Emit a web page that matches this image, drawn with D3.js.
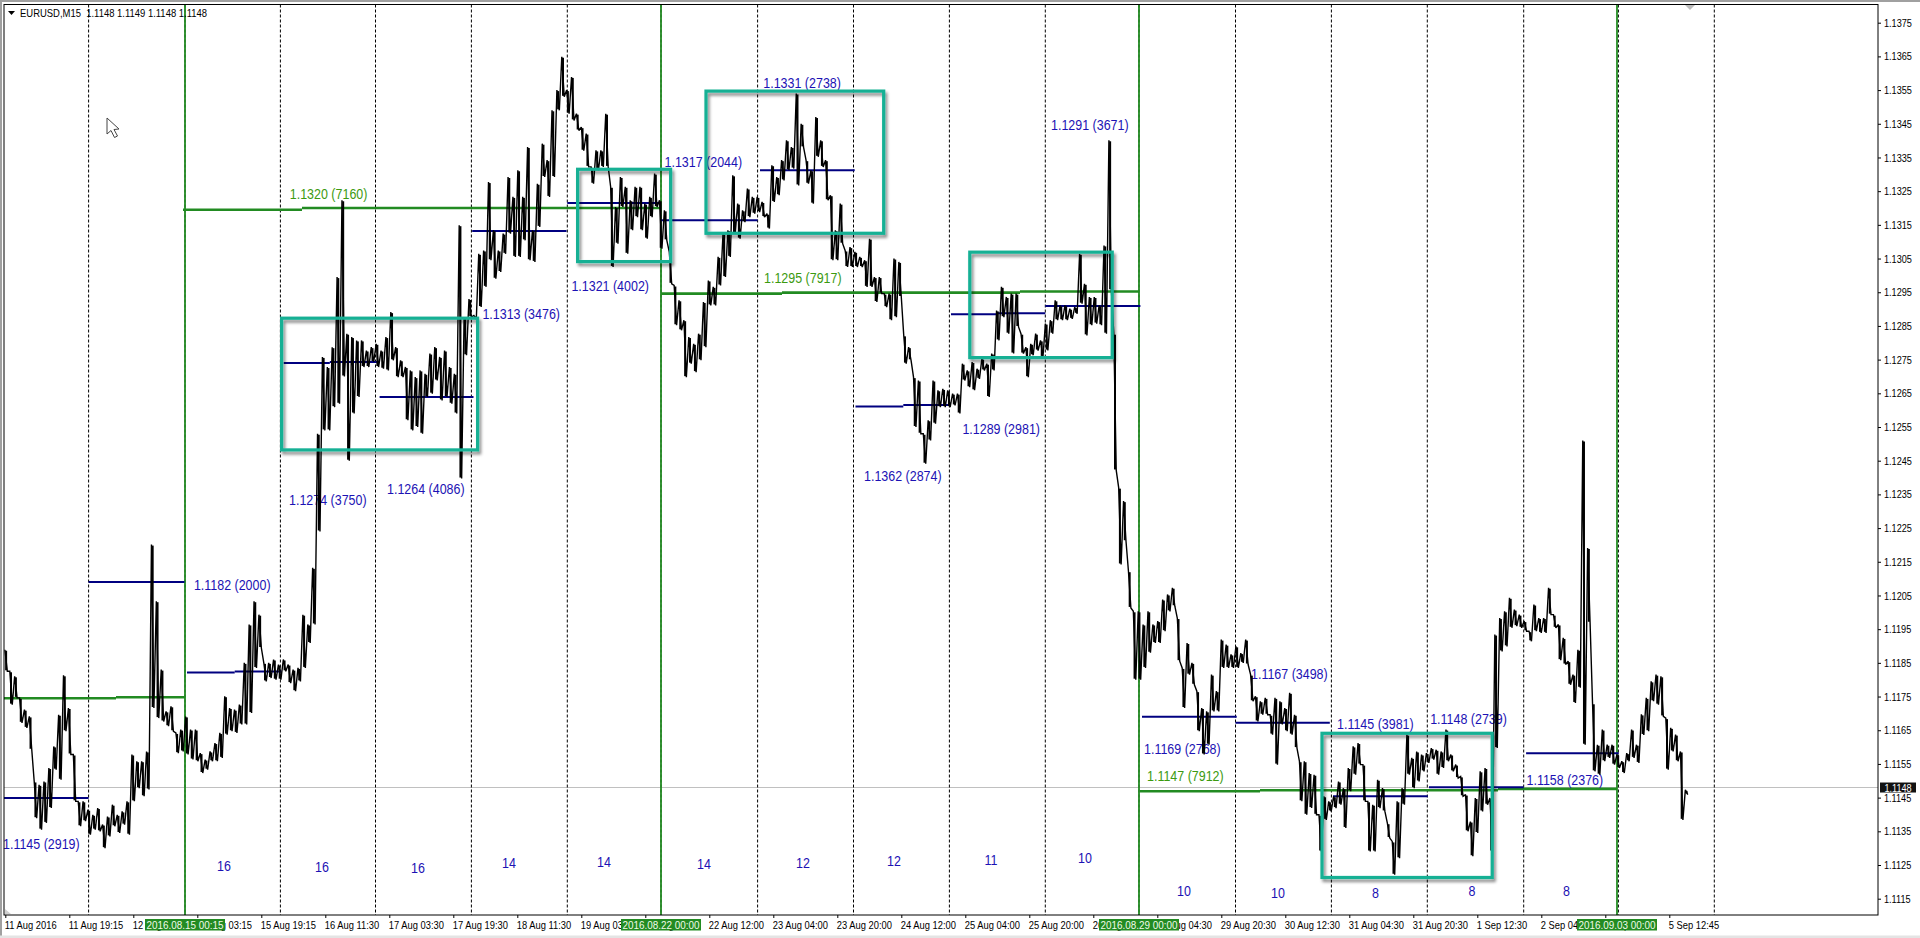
<!DOCTYPE html>
<html><head><meta charset="utf-8">
<script src="https://cdn.jsdelivr.net/npm/d3@7/dist/d3.min.js"></script>
<style>
html,body{margin:0;padding:0;background:#fff;overflow:hidden}
svg{display:block}
text{font-family:"Liberation Sans",Arial,sans-serif}
</style></head><body>
<svg id="c" width="1920" height="938"></svg>
<script>
// ---- chart identity
const titleText = "EURUSD,M15  1.1148 1.1149 1.1148 1.1148";
const lastPrice = 1.1148;
// ---- price ticks
const priceTicks = [1.1375,1.1365,1.1355,1.1345,1.1335,1.1325,1.1315,1.1305,1.1295,1.1285,1.1275,1.1265,1.1255,1.1245,1.1235,1.1225,1.1215,1.1205,1.1195,1.1185,1.1175,1.1165,1.1155,1.1145,1.1135,1.1125,1.1115];
// ---- time tick labels (one every 64 M15 bars)
const timeLabels = ["11 Aug 2016","11 Aug 19:15","12 Aug 11:15","15 Aug 03:15","15 Aug 19:15","16 Aug 11:30","17 Aug 03:30","17 Aug 19:30","18 Aug 11:30","19 Aug 03:30","19 Aug 19:30","22 Aug 12:00","23 Aug 04:00","23 Aug 20:00","24 Aug 12:00","25 Aug 04:00","25 Aug 20:00","26 Aug 12:00","29 Aug 04:30","29 Aug 20:30","30 Aug 12:30","31 Aug 04:30","31 Aug 20:30","1 Sep 12:30","2 Sep 04:30","2 Sep 20:45","5 Sep 12:45"];
// ---- price envelope, pips above 1.1100, read per 5 bars
const highPips = [
88.9,82.5,81,74.6,71.1,69.1,49.8,48.8,49.8,53.8,60.2,69.6,81.3,71.6,57.8,43.9,43.9,41.4,39.9,41.9,37,39.4,42.9,39.9,40.9,43.9,57.8,55.8,55.8,58.7,120.1,103.3,83,70.6,72.1,64.2,65.2,69.1,65.2,65.2,58.2,56.3,58.7,61.2,64.2,75.1,71.6,71.1,72.6,85,96.4,103.3,99.3,85,85,86,84.5,86,84.5,83,83.5,99.3,96.4,113.2,
153,175.8,172.8,178.7,199.5,222.3,182.7,181.7,180.7,180.7,177.7,178.7,179.7,177.7,181.7,189.1,178.7,174.8,172.8,171.8,169.8,171.8,170.8,176.8,178.7,175.8,177.7,172.8,170.8,214.9,187.6,193,188.1,206.4,207.4,227.7,213.4,207.4,212.4,229.2,223.3,231.2,223.3,238.1,213.4,227.2,239.1,234.2,249,255,264.9,255,258.9,248,244,242.1,232.2,237.1,237.1,248,226.3,220.3,229.2,226.3,222.3,226.3,
226.3,221.3,223.3,230.2,222.3,219.3,207,197,192.6,186.7,181.7,179.7,182.7,192.1,198.5,196.6,205.5,212.4,213.4,229.7,221.3,219.3,225.8,223.3,223.3,221.8,218.3,232.7,229.2,234.2,240.1,238.1,254,245,234.2,231.2,247,240.1,234.2,223.8,213.4,221.3,207.4,208.4,207,205.5,204.5,210.9,199.5,199.5,194.6,194.6,205,204,182.2,178.7,169.8,168.8,153,157,168.8,165.9,166.3,165.9,164.9,164.9,173.8,171.8,174.3,172.3,175.3,173.8,176.8,189.6,196.6,193.6,194.6,194.6,182.7,178.7,179.7,182.7,180.7,185.7,186.7,192.6,191.1,191.1,190.1,190.6,206.4,197.5,193.6,193.6,191.1,208.9,240.1,182.7,137,133,112.2,100.3,100.3,96.4,100.3,96.4,97.4,103.8,105.3,107.3,98.3,83.5,90.9,85,76.6,71.6,70.6,81.5,76.6,91.9,90.4,87.5,89.9,87.9,91.9,81.5,75.1,73.6,74.6,69.6,74.6,
73.6,71.6,76.1,69.6,55.8,55.8,52.3,51.8,39.9,45.4,43.9,45.4,49.8,47.8,53.8,60.2,61.2,54.8,43.9,42.9,50.3,47.8,37.4,32,43.9,47.8,63.7,56.8,58.7,57.8,58.2,59.7,59.2,58.7,65.2,57.8,54.8,51.3,45.9,37.9,44.9,52.8,53.8,44.9,93.4,98.3,100.3,104.3,100.8,99.3,97.4,94.4,102.3,98.3,98.3,107.3,99.3,96.4,92.4,85.5,81.5,88.9,151,119.1,73,60.7,65.2,60.7,60.7,57.8,55.8,58.2,65.2,60.7,69.7,74.6,79.5,81.5,81,68.6,65.7,63.7,58.7,47.3];
const lowPips = [
82.5,72.6,74.6,67.2,65.7,59.2,38.9,35.5,37.5,41.9,53.3,50.3,64.7,57.8,43.9,36.5,38,34,35.5,35,30,33.5,36.5,34.5,37,34,43.9,47.8,45.4,47.4,71.6,68.6,67.6,66.2,64.7,58.2,58.7,57.8,56.3,55.8,52.3,53.3,55.8,55.8,56.8,63.7,64.7,64.2,66.7,66.7,70.1,83.5,89.4,79.5,80.5,80,80,82.5,79,76.6,79.5,83.5,90.9,96.4,
124,154,154,160.9,161.9,170,145,159,163.9,172.8,172.8,174.3,172.8,172.3,171.8,174.8,169.8,169.8,157,154,155,153,163.9,164.9,168.8,162.9,163.9,161.9,159,139.7,176.3,187.6,187,190.6,196.6,204.5,199,201,206.4,212.4,205.5,205.5,210.4,204.5,204,214.4,229.2,223.3,229.2,249,253,248,246,243,237,232.2,227.2,231.2,232.2,232.2,202.5,209.4,220.3,206.4,213.4,217.3,
213.4,210.9,217.3,220.3,207.9,210.4,197.5,185.2,183.7,169.8,173.8,171.3,174.8,178.7,191.1,191.1,197,199.5,205.5,212.4,210.9,215.8,217.3,218.3,218.8,217.3,213.9,221.8,223.8,228.2,231.2,231.7,226.7,238,227.2,221.3,235.2,232.2,222.3,204.5,204.5,209.4,202.5,202.5,202.5,202.5,196.6,196.6,192.1,194.6,190.6,186.7,187.6,193.6,173.8,174.8,155,153,144.1,151,156,160.9,160.9,160.9,161.4,159,168.8,166.8,165.9,169.3,171.8,163.9,171.8,180.7,187.6,182.7,176.8,184.7,176.8,169.8,176.3,177.7,175.8,177.7,182.7,186.7,186.7,186.7,187.1,188.6,191.6,182.2,185.2,185.7,185.2,182.7,195.6,142.1,114.2,121.1,101.3,80,80,83.5,88,90.9,90.9,94.4,100.3,101.8,85.5,71.6,81.5,78.5,64.7,57.8,60.7,70.6,70.6,83.5,83.5,83.5,83.5,85,84.5,73.6,67.6,69.6,69.6,63.7,54.8,
66.7,64.7,63.7,59.7,43.9,39.9,41.9,39.9,29,38.4,40.9,41.9,42.9,36,46.9,51.8,54.8,43.9,29,29,41.9,40.9,33,22.1,27,42.9,51.8,47.8,49.8,52.8,55.3,56.3,51.8,53.8,55.8,52.8,50.8,45.4,35,27.6,34.5,40.9,42.9,29,59.7,88.4,89.9,95.4,95.9,95.4,94.4,91.4,94.4,93.9,93.9,99.3,95.4,85.8,84.5,78.5,73.1,77.6,60.7,96.9,52.8,51.8,55.8,56.8,54.8,53.8,52.3,55.8,56.8,55.3,63.6,64.7,73.6,72.6,69.1,53.3,58.7,55.8,38.4,45.9];
// ---- vertical separators, bar numbers
const dashedBars = [84.6,181,276.4,371.5,467.4,563.3,657,753.6,849.5,945.4,1041.3,1135,1231.5,1327.4,1423.3,1519.7,1614.4,1710.3];
const weekBars = [181,657,1135,1613];
const weekNames = ["2016.08.15 00:15","2016.08.22 00:00","2016.08.29 00:00","2016.09.03 00:00"];
// ---- weekly levels (green): start bar, end bar, pips
const weekStart = [0,112,179,298,657,778,1016,1136,1256,1494];
const weekEnd   = [112,181,298,657,778,1016,1135,1256,1494,1613];
const weekPips  = [74.5,74.8,219.5,220,194.6,194.9,195.2,46.9,47.2,47.6];
// ---- daily levels (navy)
const dayStart = [0,84.6,183,230.7,279.7,325.8,375.6,468.2,563.3,656,756,851.5,899.3,947,993.1,1041.3,1138,1231.5,1329,1425,1522.1];
const dayEnd   = [84.6,180.5,230.7,277.6,325.8,373.6,469.5,562.5,656.4,753.6,850.7,899.3,946.2,993.1,1041.3,1136.4,1232.7,1325.8,1423.8,1519.7,1614.8];
const dayPips  = [44.9,109,82.1,82.4,174,174.3,163.9,213.2,221.5,216.4,231.2,161.1,161.5,188.5,188.8,190.9,69,67.2,45.4,48.1,58.2];
// ---- consolidation boxes
const boxBar0 = [277.6,573.6,702,965.8,1318];
const boxBar1 = [473.6,666.6,879.7,1108.2,1488.2];
const boxTop  = [187.3,231.5,254.7,206.9,64.1];
const boxBot  = [148.2,204.1,212.5,175.6,21.3];
// ---- price annotations
const noteTexts = ["1.1320 (7160)","1.1295 (7917)","1.1147 (7912)","1.1313 (3476)","1.1321 (4002)","1.1317 (2044)","1.1331 (2738)","1.1291 (3671)","1.1289 (2981)","1.1182 (2000)","1.1145 (2919)","1.1274 (3750)","1.1264 (4086)","1.1362 (2874)","1.1169 (2768)","1.1167 (3498)","1.1145 (3981)","1.1148 (2739)","1.1158 (2376)"];
const noteBars = [285.8,760,1143,478.4,567.4,660.5,759.3,1047,958.4,189.9,-1,285,383,860,1140,1247,1333,1426.2,1522.5];
const notePips = [224.1,199.1,51.3,188.4,196.8,233.6,257.1,244.5,154.4,108.1,31.2,133.2,136.6,140.4,59.4,81.6,66.8,68.3,50.2];
const countTexts = ["16","16","16","14","14","14","12","12","11","10","10","10","8","8","8"];
const countBars = [220,318,414,505,600,700,799,890,987,1081,1180,1274,1371.5,1468,1562.5];
const countPips = [24.7,24.4,24.1,25.5,25.8,25.3,25.6,26.2,26.5,27.1,17.3,16.8,16.7,17.3,17.3];

const BASE = 1.11;
const price = p => BASE + p / 10000;
const L=4, R=1878, T=4.5, B=915;
const x = d3.scaleLinear().domain([0,R-L]).range([L,R]);
const y = d3.scaleLinear().domain([1.1115,1.1375]).range([898.7,22.7]);
const svg = d3.select("#c");

// squeeze text horizontally, the terminal's font is narrow
function squeeze(sel,k){ sel.each(function(){
  const n=this.getComputedTextLength();
  d3.select(this).attr("textLength",n*k).attr("lengthAdjust","spacingAndGlyphs");
});}

// window chrome
svg.append("rect").attr("width",1920).attr("height",2).attr("fill","#a0a0a0");
svg.append("rect").attr("width",2).attr("height",938).attr("fill","#a0a0a0");
svg.append("rect").attr("y",935.5).attr("width",1920).attr("height",2.5).attr("fill","#e4e4e4");

// current price line
svg.append("line").attr("x1",L).attr("x2",R).attr("y1",y(lastPrice)).attr("y2",y(lastPrice)).attr("stroke","#c0c0c0");

// dashed grid
svg.append("g").selectAll("line").data(dashedBars).join("line")
  .attr("x1",d=>x(d)).attr("x2",d=>x(d)).attr("y1",T).attr("y2",B)
  .attr("stroke","#000").attr("stroke-width",1).attr("stroke-dasharray","3,2");

// weekly separators
svg.append("g").selectAll("line").data(weekBars).join("line")
  .attr("x1",d=>x(d)).attr("x2",d=>x(d)).attr("y1",T).attr("y2",B)
  .attr("stroke","#228b22").attr("stroke-width",1.8);

// level lines
svg.append("g").selectAll("line").data(weekPips).join("line")
  .attr("x1",(d,i)=>x(weekStart[i])).attr("x2",(d,i)=>x(weekEnd[i]))
  .attr("y1",d=>y(price(d))).attr("y2",d=>y(price(d)))
  .attr("stroke","#228b22").attr("stroke-width",2.6);
svg.append("g").selectAll("line").data(dayPips).join("line")
  .attr("x1",(d,i)=>x(dayStart[i])).attr("x2",(d,i)=>x(dayEnd[i]))
  .attr("y1",d=>y(price(d))).attr("y2",d=>y(price(d)))
  .attr("stroke","#000080").attr("stroke-width",2);

// annotations
const GREEN_NOTES = 3;
svg.append("g").selectAll("text").data(noteTexts).join("text")
  .text(d=>d).attr("x",(d,i)=>x(noteBars[i])).attr("y",(d,i)=>y(price(notePips[i]))+5)
  .attr("font-size",14).attr("fill",(d,i)=>i<GREEN_NOTES?"#3c9a10":"#1c12b4").call(squeeze,0.89);
svg.append("g").selectAll("text").data(countTexts).join("text")
  .text(d=>d).attr("x",(d,i)=>x(countBars[i])).attr("y",(d,i)=>y(price(countPips[i]))+5)
  .attr("text-anchor","middle")
  .attr("font-size",14).attr("fill","#1c12b4").call(squeeze,0.89);

// price: zigzag through each step's high and low, plus a heavy high-low bar per step
const STEP = 4.885, FIRST = 0.9;
const zig = [];
highPips.forEach((h,i)=>{ const b=FIRST+i*STEP;
  zig.push([b,h]); zig.push([b+STEP*0.5,lowPips[i]]); });
const line = d3.line().x(d=>x(d[0])).y(d=>y(price(d[1])));
svg.append("path").attr("d",line(zig)).attr("fill","none").attr("stroke","#000").attr("stroke-width",1.4).attr("stroke-linejoin","miter").attr("stroke-miterlimit",2);
svg.append("g").selectAll("line").data(highPips).join("line")
  .attr("x1",(d,i)=>x(FIRST+(i+0.25)*STEP)).attr("x2",(d,i)=>x(FIRST+(i+0.25)*STEP))
  .attr("y1",d=>y(price(d))+1).attr("y2",(d,i)=>y(price(lowPips[i]))-1)
  .attr("stroke","#000").attr("stroke-width",2);

// boxes
const defs = svg.append("defs");
const f = defs.append("filter").attr("id","sh").attr("x","-5%").attr("y","-5%").attr("width","112%").attr("height","112%");
f.append("feDropShadow").attr("dx",2).attr("dy",3).attr("stdDeviation",1.6).attr("flood-color","#000").attr("flood-opacity",0.45);
svg.append("g").selectAll("rect").data(boxTop).join("rect")
  .attr("x",(d,i)=>x(boxBar0[i])).attr("width",(d,i)=>x(boxBar1[i])-x(boxBar0[i]))
  .attr("y",d=>y(price(d))).attr("height",(d,i)=>y(price(boxBot[i]))-y(price(d)))
  .attr("fill","none").attr("stroke","#12b094").attr("stroke-width",3.2).attr("filter","url(#sh)");

// frame
svg.append("rect").attr("x",L).attr("y",T).attr("width",R-L).attr("height",B-T).attr("fill","none").attr("stroke","#000").attr("stroke-width",1);

// markers
svg.append("path").attr("d",`M${L+1},${B-1}V${B-6}L${L+7},${B-1}Z`).attr("fill","#d0d0d0");
svg.append("path").attr("d","M1685,5H1695L1690,10Z").attr("fill","#bdbdbd");
svg.append("path").attr("d","M107,118V134L111,130.5L114.5,137.5L117.5,136L114,129.5L119,129Z").attr("fill","#fff").attr("stroke","#444").attr("stroke-width",1);

// title
svg.append("path").attr("d","M8,11H15L11.5,15Z").attr("fill","#000");
svg.append("text").text(titleText).attr("x",20).attr("y",16.6).attr("font-size",11).attr("fill","#000")
  .style("white-space","pre").attr("xml:space","preserve").attr("textLength",187).attr("lengthAdjust","spacingAndGlyphs");

// y axis
const yAxis = svg.append("g").attr("transform",`translate(${R},0)`)
  .call(d3.axisRight(y).tickValues(priceTicks).tickSize(3).tickPadding(3).tickFormat(d3.format(".4f")));
yAxis.select(".domain").remove();
yAxis.selectAll("text").attr("font-size",11).attr("font-family",'"Liberation Sans"').attr("fill","#000").call(squeeze,0.83);

// x axis
const tickBars = timeLabels.map((d,i)=>1.3+64*i);
const xAxis = svg.append("g").attr("transform",`translate(0,${B})`)
  .call(d3.axisBottom(x).tickValues(tickBars).tickSize(3).tickPadding(3).tickFormat((d,i)=>timeLabels[i]));
xAxis.select(".domain").remove();
xAxis.selectAll("text").attr("text-anchor","start").attr("dx",-1).attr("font-size",11).attr("font-family",'"Liberation Sans"').attr("fill","#000").call(squeeze,0.85);

// week flags over the time axis
const flags = svg.append("g").selectAll("g").data(weekBars).join("g");
flags.append("rect").attr("x",d=>x(d)-40).attr("y",919).attr("width",80).attr("height",11.5).attr("fill","#228b22");
flags.append("text").text((d,i)=>weekNames[i]).attr("x",d=>x(d)).attr("y",928.8).attr("text-anchor","middle")
  .attr("font-size",11.5).attr("fill","#f0fae8").call(squeeze,0.86);

// last price tag
svg.append("rect").attr("x",1880).attr("y",y(lastPrice)-5).attr("width",36).attr("height",10).attr("fill","#111");
svg.append("text").text(d3.format(".4f")(lastPrice)).attr("x",1898).attr("y",y(lastPrice)+4).attr("text-anchor","middle")
  .attr("font-size",11).attr("fill","#fff").call(squeeze,0.83);
</script>
</body></html>
